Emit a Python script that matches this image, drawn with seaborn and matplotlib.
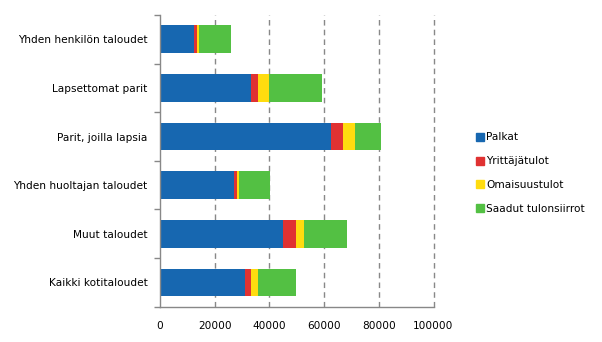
import matplotlib
matplotlib.use("Agg")
import matplotlib.pyplot as plt
from matplotlib.lines import Line2D
import seaborn as sns
import pandas as pd
import numpy as np

categories = ["Yhden henkilön taloudet", "Lapsettomat parit", "Parit, joilla lapsia",
              "Yhden huoltajan taloudet", "Muut taloudet", "Kaikki kotitaloudet"]
series = ["Palkat", "Yrittäjätulot", "Omaisuustulot", "Saadut tulonsiirrot"]
palkat = [12600, 33100, 62400, 26900, 44800, 30900]
yrittajatulot = [1100, 2900, 4400, 1400, 4800, 2200]
omaisuustulot = [700, 4000, 4400, 700, 2900, 2900]
tulonsiirrot = [11400, 19400, 9500, 11100, 15700, 13600]
colors = ["#1767b0", "#e03232", "#ffdc0f", "#53c043"]
xticks = [0, 20000, 40000, 60000, 80000, 100000]

sns.set_theme(style="white")
plt.rcParams['font.family'] = ['DejaVu Sans']
plt.rcParams['text.color'] = 'black'
plt.rcParams['xtick.labelcolor'] = 'black'
plt.rcParams['ytick.labelcolor'] = 'black'

df = pd.DataFrame({"cat": categories, "Palkat": palkat, "Yrittäjätulot": yrittajatulot,
                   "Omaisuustulot": omaisuustulot, "Saadut tulonsiirrot": tulonsiirrot})
cum = df[series].cumsum(axis=1)

fig = plt.figure(figsize=(6.02, 3.42), dpi=100)
ax = fig.add_axes([0.2658, 0.1032, 0.4543, 0.8528])

for s, c in reversed(list(zip(series, colors))):
    sns.barplot(x=cum[s], y=df["cat"], color=c, orient="h", width=0.57,
                saturation=1, ax=ax, linewidth=0)

ax.set_xlim(0, 100000)
ax.set_ylim(5.5, -0.5)
ax.set_xticks(xticks)
ax.set_xticklabels([str(v) for v in xticks], fontsize=7.6)
ax.set_xlabel("")
ax.set_ylabel("")
ax.tick_params(axis="y", labelsize=7.6, length=0, pad=9, labelcolor="black")
ax.tick_params(axis="x", length=3, color="#888888", pad=7, labelcolor="black")
ax.set_yticks(np.arange(len(categories)))
ax.set_yticklabels(categories)
ax.set_yticks(np.arange(-0.5, len(categories), 1), minor=True)
ax.tick_params(axis="y", which="minor", length=4, color="#888888", direction="out", left=True)

for x in xticks[1:]:
    ax.axvline(x, color="#888888", linestyle=(0, (4, 3)), linewidth=1, zorder=0, clip_on=False)

for side in ["top", "right"]:
    ax.spines[side].set_visible(False)
for side in ["left", "bottom"]:
    ax.spines[side].set_color("#888888")
    ax.spines[side].set_linewidth(1)

handles = [Line2D([0], [0], marker="s", linestyle="", markersize=6,
                  markerfacecolor=c, markeredgecolor=c) for c in colors]
fig.legend(handles, series, loc="upper left", bbox_to_anchor=(0.785, 0.625),
           frameon=False, fontsize=7.6, handlelength=0.6, handletextpad=0.3,
           labelspacing=1.3, borderaxespad=0, labelcolor="black")

fig.savefig("out.png", dpi=100)
